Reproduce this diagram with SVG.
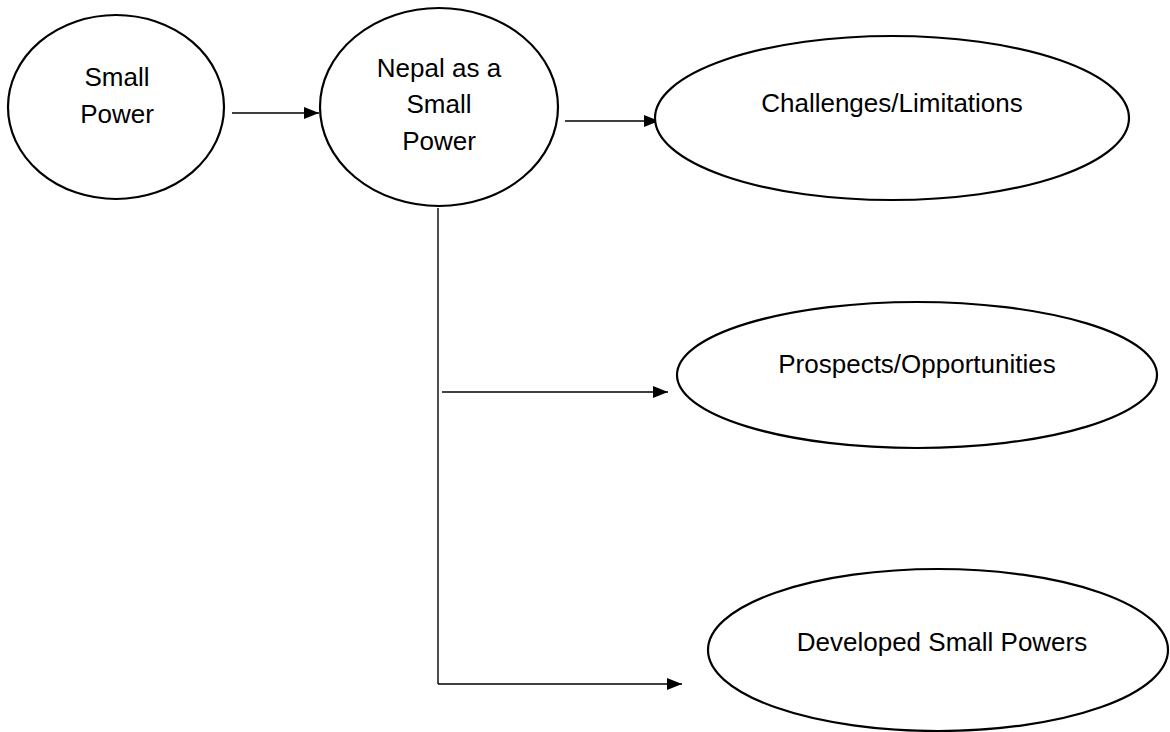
<svg xmlns="http://www.w3.org/2000/svg" width="1170" height="732" viewBox="0 0 1170 732">
<style>
.node ellipse{fill:#fff;stroke:#000;stroke-width:2.2}
.node text{font-family:"Liberation Sans",Arial,sans-serif;font-size:26px;fill:#000;text-anchor:middle}
.conn line{stroke:#000;stroke-width:1.4}
</style>
<defs>
<marker id="ah" markerWidth="15" markerHeight="12" refX="15" refY="6" orient="auto" markerUnits="userSpaceOnUse">
<path d="M0,0 L15,6 L0,12 Z" fill="#000"/>
</marker>
</defs>
<rect width="1170" height="732" fill="#fff"/>
<g class="conn">
<line x1="232" y1="113" x2="319" y2="113" marker-end="url(#ah)"/>
<line x1="565" y1="121" x2="659" y2="121" marker-end="url(#ah)"/>
<line x1="438" y1="208" x2="438" y2="684"/>
<line x1="442" y1="392" x2="668" y2="392" marker-end="url(#ah)"/>
<line x1="438" y1="684" x2="682" y2="684" marker-end="url(#ah)"/>
</g>
<g id="n1" class="node">
<ellipse cx="116" cy="107" rx="108" ry="92"/>
<text x="117" y="86">Small</text>
<text x="117" y="123">Power</text>
</g>
<g id="n2" class="node">
<ellipse cx="439" cy="107" rx="119" ry="99"/>
<text x="439" y="77">Nepal as a</text>
<text x="439" y="113">Small</text>
<text x="439" y="150">Power</text>
</g>
<g id="n3" class="node">
<ellipse cx="892" cy="118" rx="237" ry="82"/>
<text x="892" y="112">Challenges/Limitations</text>
</g>
<g id="n4" class="node">
<ellipse cx="917" cy="375" rx="240" ry="73"/>
<text x="917" y="373">Prospects/Opportunities</text>
</g>
<g id="n5" class="node">
<ellipse cx="938" cy="650" rx="230" ry="81"/>
<text x="942" y="651">Developed Small Powers</text>
</g>
</svg>
